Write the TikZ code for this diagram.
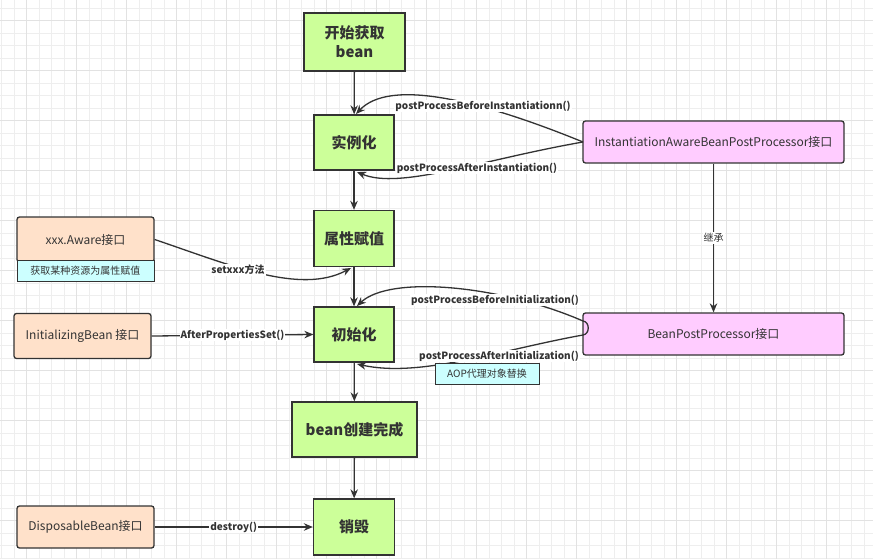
\documentclass[tikz,border=0pt]{standalone}
\usepackage{fontspec}
\setmainfont{Noto Sans CJK SC}
\usetikzlibrary{arrows.meta}
\definecolor{gfill}{HTML}{CCFF99}
\definecolor{pfill}{HTML}{FFE1CA}
\definecolor{mfill}{HTML}{FFCCFF}
\definecolor{cfill}{HTML}{CCFFFF}
\definecolor{lc}{HTML}{333333}
\definecolor{tc}{HTML}{333333}
\definecolor{gminorc}{HTML}{EEEEEE}
\definecolor{gmajorc}{HTML}{E2E2E2}
\begin{document}
\begin{tikzpicture}[x=1pt,y=-1pt,
  mainbox/.style={draw=lc, fill=gfill, line width=1.3pt, font=\bfseries\fontsize{15}{19}\selectfont, text=tc, align=center, inner sep=0pt},
  sidebox/.style={draw=lc, fill=pfill, rounded corners=2.5pt, line width=1.3pt, font=\fontsize{12}{14}\selectfont, text=tc, inner sep=0pt},
  ifacebox/.style={draw=lc, fill=mfill, rounded corners=2.5pt, line width=1.3pt, font=\fontsize{12}{14}\selectfont, text=tc, inner sep=0pt, minimum width=261pt, minimum height=42pt},
  notebox/.style={draw=lc, fill=cfill, line width=1pt, font=\fontsize{10}{12}\selectfont, text=tc, inner sep=0pt},
  conn/.style={draw=lc, line width=1.3pt, -{Stealth[length=9pt,width=7.5pt]}},
  lbl/.style={fill=white, inner sep=1pt, font=\bfseries\fontsize{10}{12}\selectfont, text=tc},
  gminor/.style={draw=gminorc, line width=0.8pt},
  gmajor/.style={draw=gmajorc, line width=0.9pt}
]
\useasboundingbox (0,0) rectangle (873,559);
\fill[white] (0,0) rectangle (873,559);
% grid
\foreach \k in {0,...,69} { \draw[gminor] ({1.5+12.5*\k},0) -- ({1.5+12.5*\k},559); }
\foreach \k in {0,...,44} { \draw[gminor] (0,{8+12.5*\k}) -- (873,{8+12.5*\k}); }
\foreach \k in {0,...,17} { \draw[gmajor] ({26.5+50*\k},0) -- ({26.5+50*\k},559); }
\foreach \k in {0,...,11} { \draw[gmajor] (0,{20.5+50*\k}) -- (873,{20.5+50*\k}); }

% main flow
\node[mainbox, minimum width=101pt, minimum height=58pt] (start) at (354.5,42) {开始获取\\bean};
\node[mainbox, minimum width=80pt, minimum height=55pt] (inst) at (354,142.5) {实例化};
\node[mainbox, minimum width=80pt, minimum height=56pt] (attr) at (354,238.5) {属性赋值};
\node[mainbox, minimum width=80pt, minimum height=55pt] (init) at (354,334.5) {初始化};
\node[mainbox, minimum width=125pt, minimum height=55pt] (done) at (354.5,429.5) {bean创建完成};
\node[mainbox, minimum width=81pt, minimum height=56pt] (dest) at (354,527) {销毁};

% interfaces
\node[ifacebox] (iabpp) at (713.5,142) {InstantiationAwareBeanPostProcessor接口};
\node[ifacebox] (bpp) at (713.5,334) {BeanPostProcessor接口};

\node[sidebox, minimum width=137pt, minimum height=45pt] (aware) at (85.5,239.5) {xxx.Aware接口};
\node[notebox, minimum width=137pt, minimum height=21pt] (awarenote) at (85.5,270.5) {获取某种资源为属性赋值};
\node[sidebox, minimum width=137pt, minimum height=45pt] (initbean) at (82.5,336) {InitializingBean 接口};
\node[sidebox, minimum width=137pt, minimum height=42pt] (disp) at (85.5,527) {DisposableBean接口};

% main arrows
\draw[conn] (start) -- (inst);
\draw[conn] (inst) -- (attr);
\draw[conn] (attr) -- (init);
\draw[conn] (init) -- (done);
\draw[conn] (done) -- (dest);

% instantiation callbacks
\coordinate (iaL) at (583,142);
\draw[conn] (iaL) .. controls (480,100) and (390,78) .. (356,114);
\node[lbl] (lbBI) at (483,106) {postProcessBeforeInstantiationn()};
\draw[conn] (iaL) .. controls (480,160) and (400,190) .. (357,172);
\node[lbl] (lbAI) at (477,168) {postProcessAfterInstantiation()};

% inherit
\draw[conn] (iabpp) -- (bpp) node[pos=0.5, fill=white, inner sep=1pt, font=\fontsize{10}{12}\selectfont, text=tc] (inh) {继承};

% aware
\coordinate (attrIn) at (351,268);
\draw[conn] (aware.east) .. controls (230,265) and (300,295) .. (attrIn);
\node[lbl] (lbset) at (238,270) {setxxx方法};

% initializing bean
\draw[conn] (initbean.east) -- (init.west) node[lbl, pos=0.5] (lbaps) {AfterPropertiesSet()};

% initialization callbacks
\coordinate (bppT) at (583,321);
\coordinate (bppB) at (583,335);
\draw[lc, line width=1.3pt] (bppT) .. controls (590,322) and (590,334) .. (bppB);
\draw[conn] (bppT) .. controls (500,285) and (390,275) .. (357,306);
\node[lbl] (lbBIn) at (495,300) {postProcessBeforeInitialization()};
\draw[conn] (bppB) .. controls (500,350) and (420,378) .. (357,364);
\node[lbl] (lbAIn) at (499,356) {postProcessAfterInitialization()};
\node[notebox, minimum width=104pt, minimum height=21pt] (aop) at (487,373.5) {AOP代理对象替换};

% destroy
\draw[conn] (disp.east) -- (dest.west) node[lbl, pos=0.5] (lbdes) {destroy()};
\end{tikzpicture}
\end{document}
